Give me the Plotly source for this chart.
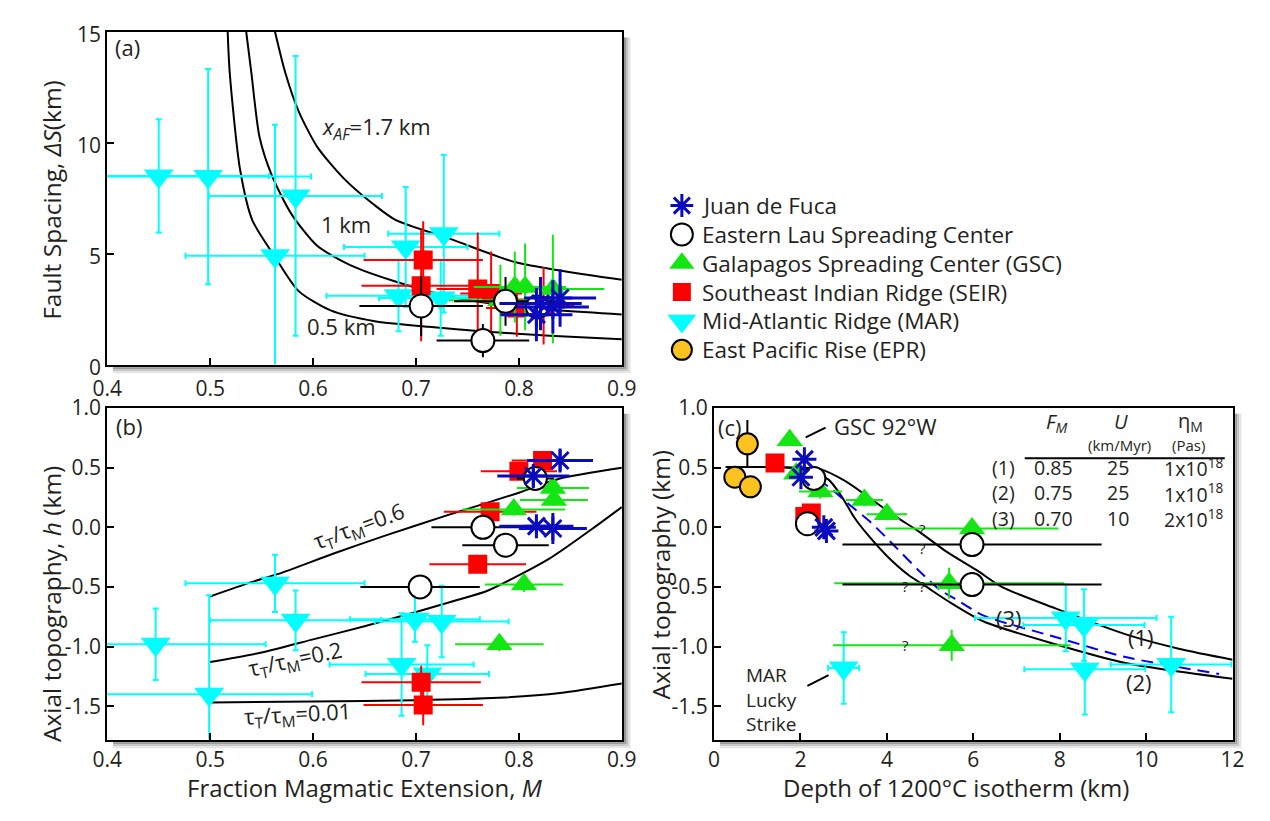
import plotly.graph_objects as go

W, H = 1270, 821
FONT = "'Open Sans', Lato, sans-serif"
INK = "#231f20"

C_JDF = "#0a0abf"
C_GSC = "#14e614"
C_SEIR = "#ff0000"
C_MAR = "#00ffff"
C_EPR = "#fcc21f"

# ---------------- (a) fault spacing vs fraction magmatic extension ----------------
a_mar_m = [0.450, 0.498, 0.583, 0.563, 0.690, 0.727, 0.683, 0.724]
a_mar_s = [8.50, 8.47, 7.60, 4.90, 5.30, 5.90, 3.10, 3.00]
a_mar_dm = [0.107, 0.100, 0.084, 0.087, 0.060, 0.054, 0.070, 0.060]
a_mar_ds = [2.55, 4.85, 6.30, 5.90, 2.70, 3.55, 1.60, 1.70]

a_seir_m = [0.707, 0.705, 0.760, 0.773, 0.798, 0.824]
a_seir_s = [4.71, 3.55, 3.40, 3.20, 2.55, 2.65]
a_seir_dm = [0.058, 0.058, 0.040, 0.030, 0.030, 0.030]
a_seir_ds = [1.75, 2.50, 2.55, 1.90, 1.30, 1.75]

a_gsc_m = [0.782, 0.796, 0.806, 0.833]
a_gsc_s = [2.90, 3.50, 3.50, 3.40]
a_gsc_dm = [0.050, 0.040, 0.040, 0.050]
a_gsc_ds = [1.60, 1.60, 1.95, 2.45]

a_lau_m = [0.705, 0.787, 0.765, 0.818]
a_lau_s = [2.64, 2.85, 1.08, 2.60]
a_lau_dm = [0.060, 0.050, 0.045, 0.030]
a_lau_ds = [1.35, 1.10, 0.75, 0.50]

a_jdf_m = [0.817, 0.821, 0.833, 0.840]
a_jdf_s = [2.25, 2.75, 2.60, 3.00]
a_jdf_dm = [0.035, 0.040, 0.035, 0.035]
a_jdf_ds = [1.20, 1.20, 1.20, 1.30]

# model curves for three values of x_AF
xaf05_m = [0.517, 0.519, 0.529, 0.541, 0.564, 0.586, 0.617, 0.660, 0.712, 0.766, 0.830, 0.900]
xaf05_s = [15.0, 13.15, 8.80, 6.50, 4.78, 3.31, 2.44, 1.95, 1.70, 1.49, 1.30, 1.14]
xaf10_m = [0.535, 0.540, 0.548, 0.560, 0.579, 0.604, 0.636, 0.680, 0.734, 0.797, 0.900]
xaf10_s = [15.0, 13.15, 10.24, 8.51, 6.78, 5.35, 4.48, 3.74, 3.05, 2.61, 2.26]
xaf17_m = [0.563, 0.573, 0.586, 0.604, 0.630, 0.659, 0.680, 0.734, 0.797, 0.900]
xaf17_s = [15.0, 13.15, 11.41, 9.81, 8.38, 7.21, 6.52, 5.65, 4.61, 3.82]

# ---------------- (b) axial topography vs M ----------------
b_mar_m = [0.447, 0.499, 0.563, 0.583, 0.699, 0.725, 0.686, 0.711]
b_mar_h = [-0.98, -1.40, -0.47, -0.78, -0.77, -0.79, -1.15, -1.23]
b_mar_dm = [0.107, 0.100, 0.087, 0.083, 0.063, 0.065, 0.070, 0.060]
b_mar_dh = [0.30, 0.83, 0.24, 0.25, 0.19, 0.30, 0.43, 0.24]

b_seir_m = [0.705, 0.707, 0.760, 0.772, 0.800, 0.823]
b_seir_h = [-1.30, -1.49, -0.31, 0.13, 0.47, 0.56]
b_seir_dm = [0.058, 0.058, 0.047, 0.045, 0.037, 0.030]
b_seir_dh = [0.14, 0.17, 0.04, 0.04, 0.04, 0.04]

b_gsc_m = [0.795, 0.834, 0.833, 0.805, 0.781]
b_gsc_h = [0.15, 0.23, 0.33, -0.48, -0.98]
b_gsc_dm = [0.050, 0.033, 0.035, 0.038, 0.043]
b_gsc_dh = [0.05, 0.05, 0.05, 0.06, 0.06]

b_lau_m = [0.765, 0.787, 0.704, 0.816]
b_lau_h = [0.00, -0.15, -0.50, 0.41]
b_lau_dm = [0.050, 0.042, 0.058, 0.018]
b_lau_dh = [0.0, 0.0, 0.0, 0.0]

b_jdf_m = [0.814, 0.840, 0.817, 0.833]
b_jdf_h = [0.43, 0.56, 0.01, -0.01]
b_jdf_dm = [0.035, 0.032, 0.036, 0.033]
b_jdf_dh = [0.09, 0.09, 0.07, 0.13]

# model curves for three ratios tau_T / tau_M
tau06_m = [0.50, 0.54, 0.57, 0.62, 0.67, 0.73, 0.80, 0.84, 0.90]
tau06_h = [-0.58, -0.46, -0.38, -0.22, -0.07, 0.10, 0.29, 0.41, 0.50]
tau02_m = [0.50, 0.55, 0.60, 0.65, 0.70, 0.74, 0.77, 0.83, 0.87, 0.90]
tau02_h = [-1.13, -1.05, -0.94, -0.83, -0.71, -0.61, -0.53, -0.26, -0.02, 0.17]
tau001_m = [0.50, 0.60, 0.70, 0.78, 0.84, 0.90]
tau001_h = [-1.47, -1.46, -1.45, -1.43, -1.39, -1.31]

# ---------------- (c) axial topography vs depth of 1200 C isotherm ----------------
c_epr_z = [0.77, 0.48, 0.84]
c_epr_h = [0.70, 0.42, 0.34]
c_epr_dh = [0.20, 0.0, 0.0]

c_mar_z = [3.00, 8.14, 8.56, 8.58, 10.58]
c_mar_h = [-1.18, -0.76, -0.82, -1.19, -1.15]
c_mar_dz = [0.36, 2.10, 1.40, 1.40, 1.40]
c_mar_dh = [0.30, 0.28, 0.30, 0.38, 0.40]

c_gsc_z = [1.75, 1.90, 2.46, 3.48, 4.00, 5.97, 5.44, 5.50]
c_gsc_h = [0.73, 0.45, 0.30, 0.23, 0.11, -0.01, -0.47, -0.99]
c_gsc_dz = [0.0, 0.0, 0.50, 0.43, 0.47, 2.00, 2.66, 2.75]
c_gsc_dh = [0.0, 0.0, 0.06, 0.05, 0.05, 0.0, 0.13, 0.13]

c_seir_z = [1.41, 2.10, 2.25]
c_seir_h = [0.54, 0.09, 0.12]

c_lau_z = [2.31, 2.16, 5.97, 5.97]
c_lau_h = [0.41, 0.03, -0.145, -0.48]
c_lau_dz = [0.30, 0.25, 3.00, 3.00]

c_jdf_z = [2.09, 2.01, 2.54, 2.60]
c_jdf_h = [0.57, 0.42, 0.00, -0.03]

# thermo-mechanical model curves (1)-(3)
mod1_z = [0.27, 1.20, 1.90, 2.43, 3.03, 3.55, 4.16, 4.76, 5.36, 6.12, 6.66, 7.90, 9.55, 10.78, 12.0]
mod1_h = [0.505, 0.505, 0.50, 0.49, 0.39, 0.26, 0.10, -0.04, -0.20, -0.37, -0.50, -0.68, -0.90, -1.02, -1.11]
mod2_z = [0.27, 1.20, 1.80, 2.15, 2.65, 2.95, 3.25, 3.55, 4.00, 4.50, 4.92, 5.42, 6.24, 7.90, 9.55, 12.0]
mod2_h = [0.505, 0.505, 0.50, 0.48, 0.40, 0.26, 0.08, -0.06, -0.24, -0.40, -0.50, -0.62, -0.79, -0.98, -1.14, -1.27]
mod3_z = [2.05, 2.65, 3.10, 3.63, 4.16, 4.76, 5.21, 5.58, 6.24, 7.90, 9.55, 11.69]
mod3_h = [0.50, 0.34, 0.20, 0.04, -0.15, -0.37, -0.52, -0.60, -0.74, -0.92, -1.09, -1.23]

# parameter table of the three models
table_label = ["(1)", "(2)", "(3)"]
table_fm = ["0.85", "0.75", "0.70"]
table_u = ["25", "25", "10"]
table_eta = ["1x10<sup>18</sup>", "1x10<sup>18</sup>", "2x10<sup>18</sup>"]

legend_names = ["Juan de Fuca", "Eastern Lau Spreading Center",
                "Galapagos Spreading Center (GSC)", "Southeast Indian Ridge (SEIR)",
                "Mid-Atlantic Ridge (MAR)", "East Pacific Rise (EPR)"]

STYLE = {
    "jdf": dict(symbol="asterisk-open", size=20, fill=C_JDF, edge=C_JDF, edge_w=3, err=C_JDF, err_w=3, cap=0),
    "lau": dict(symbol="circle", size=23, fill="white", edge="black", edge_w=2, err="black", err_w=2, cap=0),
    "gsc": dict(symbol="triangle-up", size=23, fill=C_GSC, edge=C_GSC, edge_w=0, err=C_GSC, err_w=2, cap=0),
    "seir": dict(symbol="square", size=19, fill=C_SEIR, edge=C_SEIR, edge_w=0, err=C_SEIR, err_w=2, cap=0),
    "mar": dict(symbol="triangle-down", size=26, fill=C_MAR, edge=C_MAR, edge_w=0, err=C_MAR, err_w=2, cap=3),
    "epr": dict(symbol="circle", size=21, fill=C_EPR, edge="black", edge_w=2, err="black", err_w=2, cap=0),
}

fig = go.Figure()


def add_curve(ax, x, y, color="black", dash="solid"):
    fig.add_trace(go.Scatter(
        x=x, y=y, mode="lines", xaxis="x" + ax, yaxis="y" + ax, showlegend=False,
        hoverinfo="skip",
        line=dict(color=color, width=2, dash=dash, shape="spline", smoothing=0.7)))


def add_series(ax, key, x, y, dx=None, dy=None):
    s = STYLE[key]
    fig.add_trace(go.Scatter(
        x=x, y=y, mode="markers", xaxis="x" + ax, yaxis="y" + ax, showlegend=False,
        marker=dict(symbol=s["symbol"], size=s["size"], color=s["fill"],
                    line=dict(color=s["edge"], width=s["edge_w"])),
        error_x=dict(type="data", array=dx if dx is not None else [0] * len(x),
                     visible=dx is not None, color=s["err"], thickness=s["err_w"], width=s["cap"]),
        error_y=dict(type="data", array=dy if dy is not None else [0] * len(x),
                     visible=dy is not None, color=s["err"], thickness=s["err_w"], width=s["cap"]),
    ))


# panel (a)
for m, s in [(xaf05_m, xaf05_s), (xaf10_m, xaf10_s), (xaf17_m, xaf17_s)]:
    add_curve("", m, s)
add_series("", "mar", a_mar_m, a_mar_s, a_mar_dm, a_mar_ds)
add_series("", "seir", a_seir_m, a_seir_s, a_seir_dm, a_seir_ds)
add_series("", "gsc", a_gsc_m, a_gsc_s, a_gsc_dm, a_gsc_ds)
add_series("", "lau", a_lau_m, a_lau_s, a_lau_dm, a_lau_ds)
add_series("", "jdf", a_jdf_m, a_jdf_s, a_jdf_dm, a_jdf_ds)

# panel (b)
for m, h in [(tau06_m, tau06_h), (tau02_m, tau02_h), (tau001_m, tau001_h)]:
    add_curve("2", m, h)
add_series("2", "mar", b_mar_m, b_mar_h, b_mar_dm, b_mar_dh)
add_series("2", "seir", b_seir_m, b_seir_h, b_seir_dm, b_seir_dh)
add_series("2", "gsc", b_gsc_m, b_gsc_h, b_gsc_dm, b_gsc_dh)
add_series("2", "lau", b_lau_m, b_lau_h, b_lau_dm, b_lau_dh)
add_series("2", "jdf", b_jdf_m, b_jdf_h, b_jdf_dm, b_jdf_dh)

# panel (c)
add_curve("3", mod1_z, mod1_h)
add_curve("3", mod2_z, mod2_h)
add_curve("3", mod3_z, mod3_h, color="#0000ff", dash="12px,7px")
add_series("3", "mar", c_mar_z, c_mar_h, c_mar_dz, c_mar_dh)
add_series("3", "seir", c_seir_z, c_seir_h)
add_series("3", "gsc", c_gsc_z, c_gsc_h, c_gsc_dz, c_gsc_dh)
add_series("3", "lau", c_lau_z, c_lau_h, c_lau_dz, None)
add_series("3", "jdf", c_jdf_z, c_jdf_h)
add_series("3", "epr", c_epr_z, c_epr_h, None, c_epr_dh)

# legend swatches drawn on a hidden pixel-scaled axis
leg_keys = ["jdf", "lau", "gsc", "seir", "mar", "epr"]
leg_rows = [198, 228, 258, 288, 318, 348]
for key, row in zip(leg_keys, leg_rows):
    s = STYLE[key]
    fig.add_trace(go.Scatter(
        x=[683], y=[row], mode="markers", xaxis="x4", yaxis="y4", showlegend=False,
        hoverinfo="skip",
        marker=dict(symbol=s["symbol"], size=s["size"] - 1, color=s["fill"],
                    line=dict(color=s["edge"], width=s["edge_w"]))))

# ---------------- axes ----------------
def fx(px):
    return px / W


def fy(py):
    return 1 - py / H


PA = (94.5, 621.5, 17.3, 363.3)
PB = (94.5, 621.5, 408.5, 753.0)
PC = (716.0, 1247.0, 408.5, 753.0)

axis_common = dict(showline=True, mirror=True, linecolor="black", linewidth=2,
                   ticks="inside", ticklen=7, tickwidth=2, tickcolor="black",
                   showgrid=False, zeroline=False,
                   tickfont=dict(family=FONT, size=21, color=INK))

topo_vals = [-1.5, -1.0, -0.5, 0.0, 0.5, 1.0]
topo_text = ["-1.5", "-1.0", "-0.5", "0.0", "0.5", "1.0"]

fig.update_layout(
    width=W, height=H, margin=dict(l=0, r=0, t=0, b=0),
    paper_bgcolor="white", plot_bgcolor="white", showlegend=False,
    font=dict(family=FONT, color=INK),
    xaxis=dict(domain=[fx(PA[0]), fx(PA[1])], range=[0.4, 0.9], anchor="y",
               tickvals=[0.4, 0.5, 0.6, 0.7, 0.8, 0.9], ticklabelstandoff=4, **axis_common),
    yaxis=dict(domain=[fy(PA[3]), fy(PA[2])], range=[0, 15], anchor="x",
               tickvals=[0, 5, 10, 15], ticklabelshift=3, **axis_common),
    xaxis2=dict(domain=[fx(PB[0]), fx(PB[1])], range=[0.4, 0.9], anchor="y2",
                tickvals=[0.4, 0.5, 0.6, 0.7, 0.8, 0.9], **axis_common),
    yaxis2=dict(domain=[fy(PB[3]), fy(PB[2])], range=[-1.78, 1.0], anchor="x2",
                tickvals=topo_vals, ticktext=topo_text, **axis_common),
    xaxis3=dict(domain=[fx(PC[0]), fx(PC[1])], range=[0, 12], anchor="y3",
                tickvals=[0, 2, 4, 6, 8, 10, 12], **axis_common),
    yaxis3=dict(domain=[fy(PC[3]), fy(PC[2])], range=[-1.78, 1.0], anchor="x3",
                tickvals=topo_vals, ticktext=topo_text, **axis_common),
    xaxis4=dict(domain=[fx(650), fx(1100)], range=[650, 1100], anchor="y4", visible=False),
    yaxis4=dict(domain=[fy(370), fy(180)], range=[370, 180], anchor="x4", visible=False),
)

# drop shadows along the right and bottom edges of each frame
shapes = []
for (x0, x1, y0, y1) in (PA, PB, PC):
    for k, col in enumerate(["#6f6f6f", "#9a9a9a", "#c4c4c4", "#e4e4e4"]):
        a, b = 1 + 2 * k, 3 + 2 * k
        shapes.append(dict(type="rect", xref="paper", yref="paper", layer="below",
                           x0=fx(x1 + a), x1=fx(x1 + b), y0=fy(y1 + b), y1=fy(y0 + 6),
                           fillcolor=col, line=dict(width=0)))
        shapes.append(dict(type="rect", xref="paper", yref="paper", layer="below",
                           x0=fx(x0 + 6), x1=fx(x1 + a), y0=fy(y1 + b), y1=fy(y1 + a),
                           fillcolor=col, line=dict(width=0)))

# table rule and leader lines in panel (c)
shapes.append(dict(type="line", xref="x3", yref="y3", x0=7.19, x1=11.82, y0=0.58, y1=0.58,
                   line=dict(color="black", width=2)))
shapes.append(dict(type="line", xref="x3", yref="y3", x0=2.12, x1=2.58, y0=0.755, y1=0.836,
                   line=dict(color="black", width=2)))
shapes.append(dict(type="line", xref="x3", yref="y3", x0=2.16, x1=2.65, y0=-1.33, y1=-1.24,
                   line=dict(color="black", width=2)))
fig.update_layout(shapes=shapes)

ann = []


def note(text, x, y, xref, yref, size=22, xanchor="center", angle=0, align="center"):
    ann.append(dict(text=text, x=x, y=y, xref=xref, yref=yref, showarrow=False,
                    xanchor=xanchor, yanchor="middle", textangle=angle, align=align,
                    font=dict(family=FONT, size=size, color=INK)))


# panel letters
note("(a)", 0.4194, 14.3, "x", "y")
note("(b)", 0.4208, 0.85, "x2", "y2")
note("(c)", 0.36, 0.84, "x3", "y3")

# curve labels in (a)
note("<i>x</i><sub><i>AF</i></sub>=1.7 km", 0.662, 10.64, "x", "y")
note("1 km", 0.632, 6.34, "x", "y")
note("0.5 km", 0.628, 1.75, "x", "y")

# curve labels in (b)
note("τ<sub>T</sub>/τ<sub>M</sub>=0.6", 0.645, 0.0, "x2", "y2", angle=-20)
note("τ<sub>T</sub>/τ<sub>M</sub>=0.2", 0.583, -1.11, "x2", "y2", angle=-12)
note("τ<sub>T</sub>/τ<sub>M</sub>=0.01", 0.585, -1.57, "x2", "y2", angle=-3)

# panel (c) labels
note("GSC 92°W", 2.73, 0.85, "x3", "y3", xanchor="left")
note("MAR<br>Lucky<br>Strike", 0.70, -1.44, "x3", "y3", size=19, xanchor="left", align="left")
note("(1)", 9.88, -0.92, "x3", "y3")
note("(2)", 9.83, -1.295, "x3", "y3")
note("(3)", 6.82, -0.76, "x3", "y3")
for qx, qy in [(4.82, -0.01), (4.82, -0.17), (4.43, -0.49), (4.82, -0.49), (4.43, -0.99)]:
    note("?", qx, qy, "x3", "y3", size=15)

# parameter table: header, units and one multi-line text per column
note("<i>F</i><sub><i>M</i></sub>", 7.93, 0.875, "x3", "y3", size=20)
note("<i>U</i>", 9.42, 0.885, "x3", "y3", size=20)
note("η<sub>M</sub>", 11.03, 0.885, "x3", "y3", size=20)
note("(km/Myr)", 9.38, 0.690, "x3", "y3", size=15)
note("(Pas)", 10.98, 0.690, "x3", "y3", size=15)
note("<br>".join(table_label), 6.69, 0.284, "x3", "y3", size=19.5)
note("<br>".join(table_fm), 7.85, 0.284, "x3", "y3", size=19.5)
note("<br>".join(table_u), 9.36, 0.284, "x3", "y3", size=19.5)
note("<br>".join(table_eta), 11.82, 0.288, "x3", "y3", size=19.5, xanchor="right", align="right")

# legend labels
for name, row in zip(legend_names, leg_rows):
    note(name, 702, row, "x4", "y4", size=22.5, xanchor="left")

# axis titles
note("Fault Spacing, <i>ΔS</i>(km)", fx(38), fy(192), "paper", "paper", size=24.5, angle=-90)
note("Axial topography, <i>h</i> (km)", fx(38), fy(612), "paper", "paper", size=24.5, angle=-90)
note("Axial topography (km)", fx(661), fy(582), "paper", "paper", size=24.5, angle=-90)
note("Fraction Magmatic Extension, <i>M</i>", fx(358), fy(803), "paper", "paper", size=24)
note("Depth of 1200°C isotherm (km)", fx(964), fy(803), "paper", "paper", size=24)

fig.update_layout(annotations=ann)

fig.write_html("out.html")
